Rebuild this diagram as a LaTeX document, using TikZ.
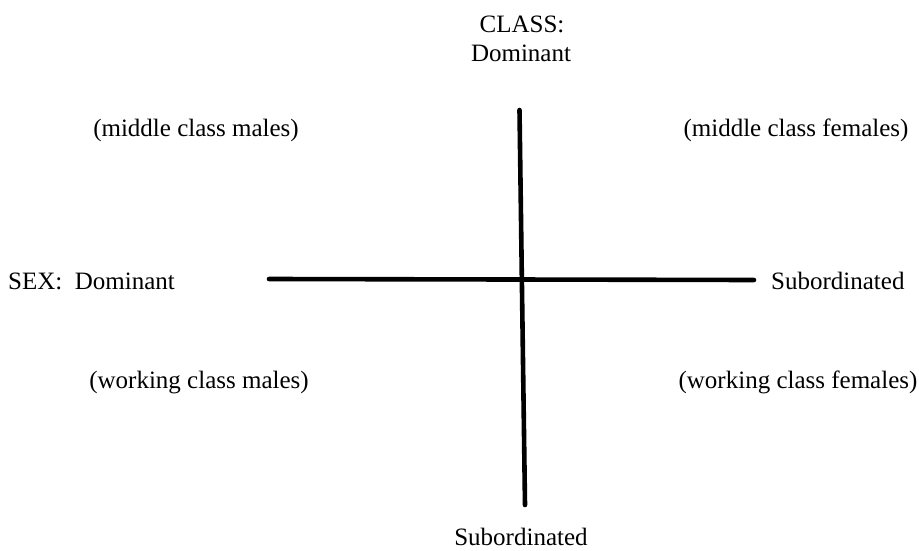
\documentclass[tikz,border=0pt]{standalone}
\usepackage{fontspec}
\setmainfont{Liberation Serif}
\begin{document}
\begin{tikzpicture}[x=1pt,y=-1pt,
  lbl/.style={font=\fontsize{25}{29}\selectfont, inner sep=0pt, anchor=base},
  axis/.style={line width=4.6pt, line cap=round}]
\useasboundingbox (0,0) rectangle (919,551);
\node[lbl] (classA) at (522,33) {CLASS:};
\node[lbl] (classB) at (521,62) {Dominant};
\node[lbl] (mcm) at (196,136) {(middle class males)};
\node[lbl] (mcf) at (796,136) {(middle class females)};
\node[lbl, anchor=base west] (sexdom) at (8,289) {SEX:\ \ Dominant};
\node[lbl, anchor=base west] (sexsub) at (771,289) {Subordinated};
\node[lbl] (wcm) at (199,388) {(working class males)};
\node[lbl] (wcf) at (798,388) {(working class females)};
\node[lbl] (classsub) at (521,545) {Subordinated};
\coordinate (vtop) at (519.5,110);
\coordinate (vbot) at (525,505);
\coordinate (hleft) at (269,279);
\coordinate (hright) at (754,280);
\draw[axis] (vtop) -- (vbot);
\draw[axis] (hleft) -- (hright);
\end{tikzpicture}
\end{document}
